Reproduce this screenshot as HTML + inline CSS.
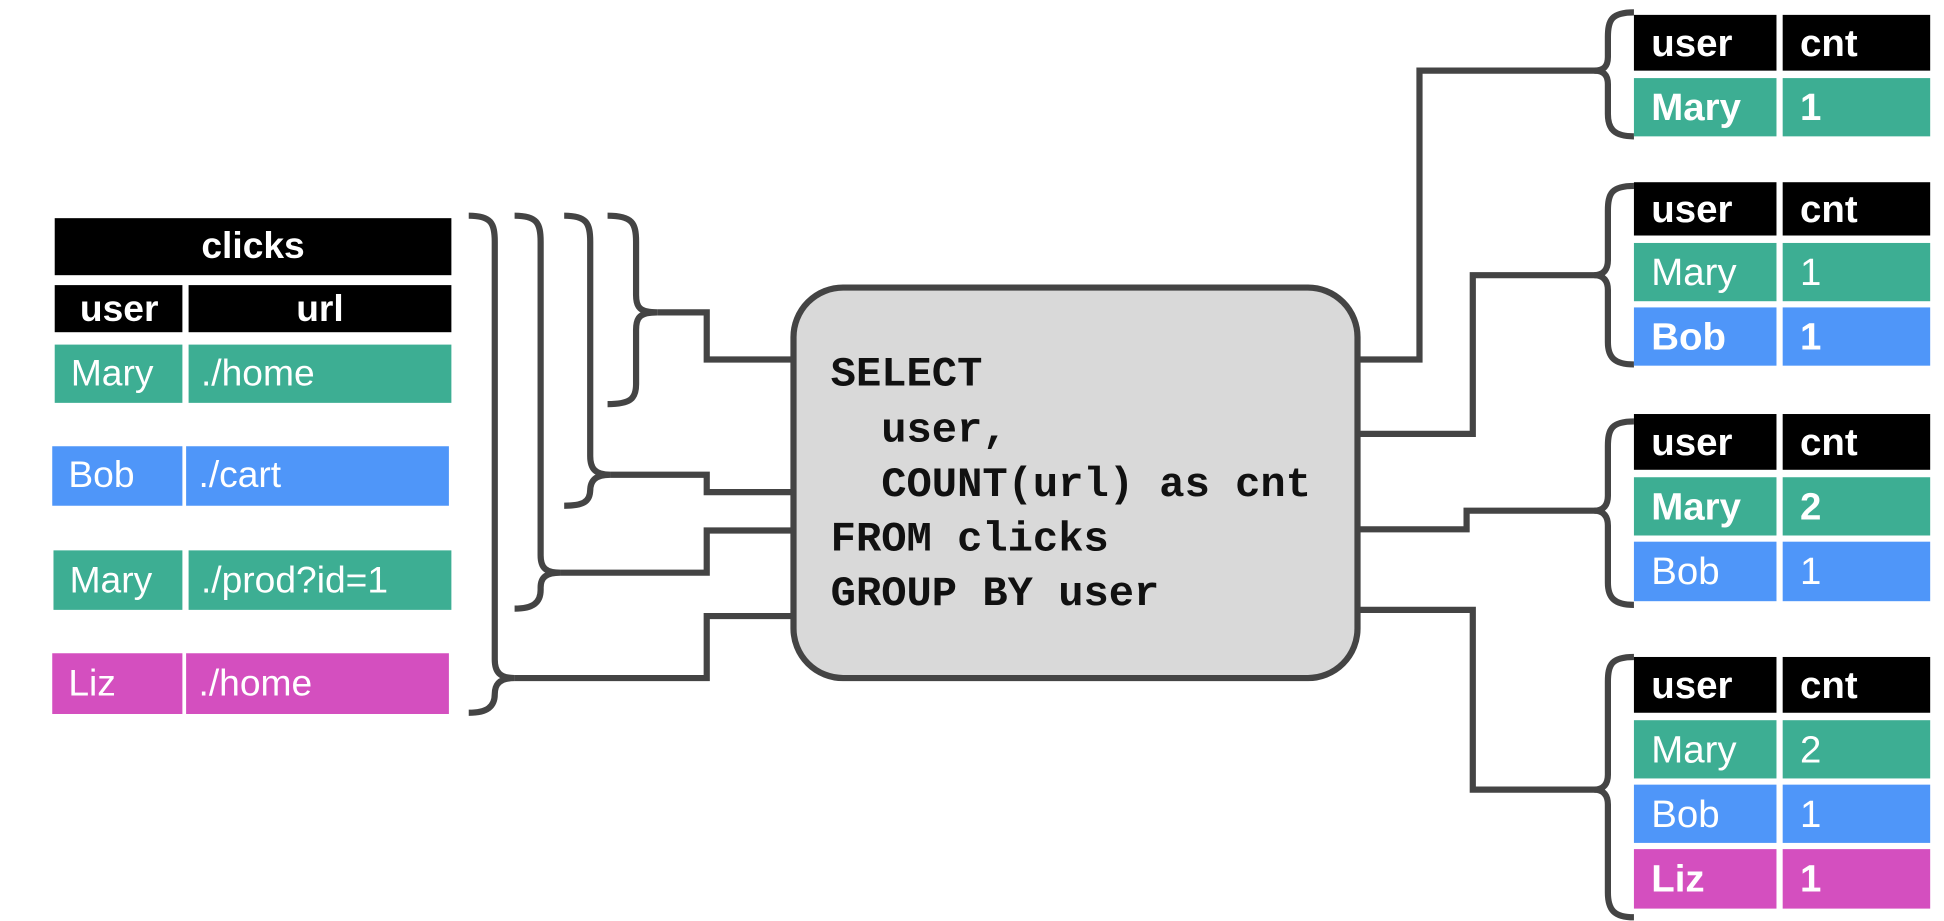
<!DOCTYPE html>
<html><head><meta charset="utf-8"><style>
html,body{margin:0;padding:0;background:#fff;width:1944px;height:921px;overflow:hidden}
svg{display:block}
.t{font-family:"Liberation Sans",sans-serif;font-size:30px;fill:#fff}
.r{font-size:31px}
.b{font-weight:bold}
.m{font-family:"Liberation Mono",monospace;font-weight:bold;font-size:34px;fill:#111}
.l{fill:none;stroke:#444;stroke-width:5;stroke-linejoin:miter}
</style></head><body>
<svg width="1944" height="921" viewBox="0 0 1568 743" xmlns="http://www.w3.org/2000/svg">
<rect x="44" y="176" width="320" height="46" fill="#000"/>
<text x="204" y="208" class="t b" text-anchor="middle">clicks</text>
<rect x="44" y="230" width="103" height="38" fill="#000"/>
<rect x="152" y="230" width="212" height="38" fill="#000"/>
<text x="96" y="259" class="t b" text-anchor="middle">user</text>
<text x="258" y="259" class="t b" text-anchor="middle">url</text>
<g>
<rect x="44" y="278" width="103" height="47" fill="#3dae93"/><rect x="152" y="278" width="212" height="47" fill="#3dae93"/>
<text x="57" y="311" class="t">Mary</text><text x="162" y="311" class="t">./home</text>
<rect x="42" y="360" width="105" height="48" fill="#4f96f9"/><rect x="150" y="360" width="212" height="48" fill="#4f96f9"/>
<text x="55" y="393" class="t">Bob</text><text x="160" y="393" class="t">./cart</text>
<rect x="43" y="444" width="104" height="48" fill="#3dae93"/><rect x="152" y="444" width="212" height="48" fill="#3dae93"/>
<text x="56" y="478" class="t">Mary</text><text x="162" y="478" class="t">./prod?id=1</text>
<rect x="42" y="527" width="105" height="49" fill="#d44fbf"/><rect x="150" y="527" width="212" height="49" fill="#d44fbf"/>
<text x="55" y="561" class="t">Liz</text><text x="160" y="561" class="t">./home</text>
</g>
<path class="l" d="M490,174 C510,174 513,180 513,195 L513,238 C513,248 516,252 530,252 C516,252 513,256 513,266 L513,310 C513,322 508,326 490,326"/>
<path class="l" d="M455,174 C473,174 476,180 476,195 L476,368 C476,378 480,383 492,383 C480,383 476,388 476,396 L476,395 C476,405 470,408 455,408"/>
<path class="l" d="M415,174 C433,174 436,180 436,195 L436,448 C436,458 440,462 452,462 C440,462 436,466 436,474 L436,476 C436,486 430,491 415,491"/>
<path class="l" d="M378,174 C396,174 399,180 399,195 L399,532 C399,542 403,547 415,547 C403,547 399,552 399,560 L399,560 C399,570 393,575 378,575"/>
<path class="l" d="M530,252 L570,252 L570,290 L640,290"/>
<path class="l" d="M492,383 L570,383 L570,397 L640,397"/>
<path class="l" d="M452,462 L570,462 L570,428 L640,428"/>
<path class="l" d="M415,547 L570,547 L570,497 L640,497"/>
<rect x="640" y="232" width="455" height="315" rx="40" ry="40" fill="#d9d9d9" stroke="#444" stroke-width="5"/>
<text x="670" y="311" class="m">SELECT</text>
<text x="670" y="356" class="m" xml:space="preserve">  user,</text>
<text x="670" y="400" class="m" xml:space="preserve">  COUNT(url) as cnt</text>
<text x="670" y="444" class="m">FROM clicks</text>
<text x="670" y="488" class="m">GROUP BY user</text>
<path class="l" d="M1095,290 L1145,290 L1145,57 L1290,57"/>
<path class="l" d="M1095,350 L1188,350 L1188,222 L1290,222"/>
<path class="l" d="M1095,427 L1183,427 L1183,412 L1290,412"/>
<path class="l" d="M1095,492 L1188,492 L1188,637 L1290,637"/>
<path class="l" d="M1318,10 C1300,10 1297,16 1297,30 L1297,46 C1297,53 1294,57 1286,57 C1294,57 1297,61 1297,68 L1297,92 C1297,104 1302,110 1318,110"/>
<path class="l" d="M1318,150 C1300,150 1297,156 1297,170 L1297,210 C1297,217 1294,222 1286,222 C1294,222 1297,227 1297,234 L1297,276 C1297,288 1302,294 1318,294"/>
<path class="l" d="M1318,340 C1300,340 1297,346 1297,360 L1297,400 C1297,407 1294,412 1286,412 C1294,412 1297,417 1297,424 L1297,470 C1297,482 1302,488 1318,488"/>
<path class="l" d="M1318,530 C1300,530 1297,536 1297,550 L1297,625 C1297,632 1294,637 1286,637 C1294,637 1297,642 1297,649 L1297,720 C1297,734 1302,740 1318,740"/>
<g>
<rect x="1318" y="12" width="115" height="45" fill="#000"/><rect x="1438" y="12" width="119" height="45" fill="#000"/>
<text x="1332" y="45" class="t r b">user</text><text x="1452" y="45" class="t r b">cnt</text>
<rect x="1318" y="63" width="115" height="47" fill="#3dae93"/><rect x="1438" y="63" width="119" height="47" fill="#3dae93"/>
<text x="1332" y="97" class="t r b">Mary</text><text x="1452" y="97" class="t r b">1</text>

<rect x="1318" y="147" width="115" height="43" fill="#000"/><rect x="1438" y="147" width="119" height="43" fill="#000"/>
<text x="1332" y="179" class="t r b">user</text><text x="1452" y="179" class="t r b">cnt</text>
<rect x="1318" y="196" width="115" height="47" fill="#3dae93"/><rect x="1438" y="196" width="119" height="47" fill="#3dae93"/>
<text x="1332" y="230" class="t r">Mary</text><text x="1452" y="230" class="t r">1</text>
<rect x="1318" y="248" width="115" height="47" fill="#4f96f9"/><rect x="1438" y="248" width="119" height="47" fill="#4f96f9"/>
<text x="1332" y="282" class="t r b">Bob</text><text x="1452" y="282" class="t r b">1</text>

<rect x="1318" y="334" width="115" height="45" fill="#000"/><rect x="1438" y="334" width="119" height="45" fill="#000"/>
<text x="1332" y="367" class="t r b">user</text><text x="1452" y="367" class="t r b">cnt</text>
<rect x="1318" y="385" width="115" height="47" fill="#3dae93"/><rect x="1438" y="385" width="119" height="47" fill="#3dae93"/>
<text x="1332" y="419" class="t r b">Mary</text><text x="1452" y="419" class="t r b">2</text>
<rect x="1318" y="437" width="115" height="48" fill="#4f96f9"/><rect x="1438" y="437" width="119" height="48" fill="#4f96f9"/>
<text x="1332" y="471" class="t r">Bob</text><text x="1452" y="471" class="t r">1</text>

<rect x="1318" y="530" width="115" height="45" fill="#000"/><rect x="1438" y="530" width="119" height="45" fill="#000"/>
<text x="1332" y="563" class="t r b">user</text><text x="1452" y="563" class="t r b">cnt</text>
<rect x="1318" y="581" width="115" height="47" fill="#3dae93"/><rect x="1438" y="581" width="119" height="47" fill="#3dae93"/>
<text x="1332" y="615" class="t r">Mary</text><text x="1452" y="615" class="t r">2</text>
<rect x="1318" y="633" width="115" height="47" fill="#4f96f9"/><rect x="1438" y="633" width="119" height="47" fill="#4f96f9"/>
<text x="1332" y="667" class="t r">Bob</text><text x="1452" y="667" class="t r">1</text>
<rect x="1318" y="685" width="115" height="48" fill="#d44fbf"/><rect x="1438" y="685" width="119" height="48" fill="#d44fbf"/>
<text x="1332" y="719" class="t r b">Liz</text><text x="1452" y="719" class="t r b">1</text>
</g>
</svg>
</body></html>
